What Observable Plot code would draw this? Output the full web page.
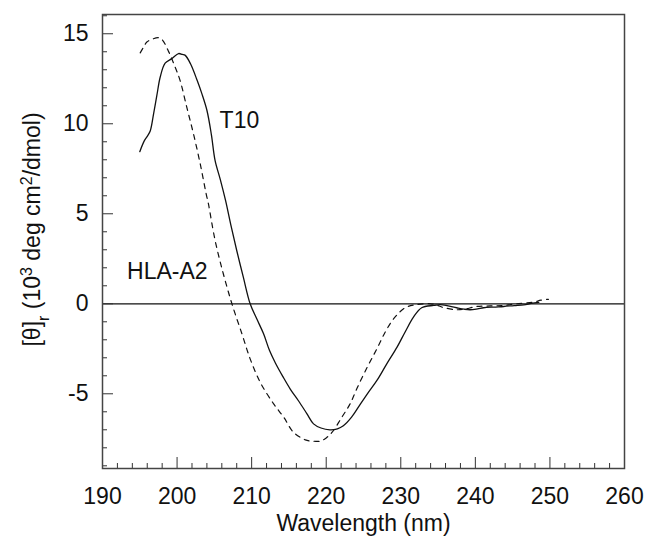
<!DOCTYPE html>
<html><head><meta charset="utf-8">
<script src="https://cdn.jsdelivr.net/npm/d3@7"></script>
<script src="https://cdn.jsdelivr.net/npm/@observablehq/plot@0.6"></script>
<style>body{margin:0;background:#fff} svg{display:block}</style>
</head><body><div id="chart"></div>
<script>
// T10 (solid) spectrum
const t10Wavelength = [195.0,195.6,196.0,196.4,196.85,197.3,197.74,198.4,199.3,200.2,200.7,201.1,201.8,202.7,203.3,204.0,204.6,205.1,205.8,206.5,207.2,208.0,208.9,209.8,210.7,211.6,212.4,213.2,214.2,215.2,216.3,217.4,218.3,219.3,220.5,221.5,222.3,223.4,224.6,225.7,226.8,228.1,229.5,230.6,231.7,232.8,234.4,235.3,236.2,237.5,238.5,239.3,240.3,241.1,242.5,243.8,245.2,246.5,247.5,248.5];
const t10Theta = [8.45,9.05,9.3,9.6,10.55,11.6,12.6,13.37,13.62,13.9,13.85,13.8,13.33,12.4,11.7,10.75,9.4,7.95,6.9,5.74,4.4,2.96,1.45,0,-0.85,-1.67,-2.6,-3.3,-4.05,-4.75,-5.4,-6.1,-6.67,-6.9,-7.0,-6.95,-6.78,-6.3,-5.56,-4.9,-4.26,-3.35,-2.41,-1.55,-0.74,-0.22,-0.09,-0.05,-0.1,-0.22,-0.3,-0.33,-0.28,-0.22,-0.18,-0.15,-0.1,-0.06,0.02,0.08];
// HLA-A2 (dashed) spectrum
const hlaWavelength = [195.06,195.5,195.95,196.7,197.5,198.0,198.9,199.75,200.4,201.3,202.2,203.1,203.9,204.2,205.1,206.2,207.4,208.7,209.8,211.2,212.95,214.3,215.6,217.2,218.2,219.2,220.0,220.8,222.1,223.2,224.1,225.5,226.8,227.9,229.05,230.6,232.2,234.0,235.0,235.8,237.5,238.5,240.2,242.0,243.8,245.5,247.8,248.8,249.8];
const hlaTheta = [13.94,14.25,14.54,14.7,14.78,14.67,13.98,13.14,12.41,10.92,9.44,7.78,6.11,5.56,3.52,1.67,-0.06,-1.67,-3.06,-4.4,-5.56,-6.3,-7.13,-7.56,-7.63,-7.63,-7.45,-7.13,-6.3,-5.56,-4.72,-3.52,-2.5,-1.58,-0.83,-0.22,-0.04,0,-0.1,-0.22,-0.33,-0.3,-0.15,-0.12,-0.09,0,0.09,0.2,0.25];
// axis ticks
const xTicks = [190,200,210,220,230,240,250,260];
const xMinorTicks = [192,194,196,198,202,204,206,208,212,214,216,218,222,224,226,228,232,234,236,238,242,244,246,248,252,254,256,258];
const yTicks = [-5,0,5,10,15];
const yMinorTicks = [-9,-8,-7,-6,-4,-3,-2,-1,1,2,3,4,6,7,8,9,11,12,13,14,16];
// curve labels
const labelText = ["T10","HLA-A2"];
const labelWavelength = [205.7,193.3];
const labelTheta = [10.2,1.8];

const W = 645, H = 538, mL = 102, mR = 21, mT = 14, mB = 70;
const plotW = W - mL - mR, plotH = H - mT - mB;
const FONT = "'Liberation Sans', Arial, Helvetica, sans-serif";

const t10 = t10Wavelength.map((x, i) => ({x, y: t10Theta[i]}));
const hla = hlaWavelength.map((x, i) => ({x, y: hlaTheta[i]}));
const labels = labelText.map((text, i) => ({text, x: labelWavelength[i], y: labelTheta[i]}));

const plot = Plot.plot({
  width: W, height: H,
  marginLeft: mL, marginRight: mR, marginTop: mT, marginBottom: mB,
  style: {fontFamily: FONT, fontSize: "23px", color: "#111", background: "#fff"},
  x: {domain: [190, 260]},
  y: {domain: [-9.15, 16.07]},
  marks: [
    Plot.ruleY([0], {stroke: "#111", strokeWidth: 1.2}),
    Plot.tickX(xMinorTicks, {x: d => d, insetTop: plotH - 5, stroke: "#333"}),
    Plot.tickX(xTicks, {x: d => d, insetTop: plotH - 11, stroke: "#333"}),
    Plot.tickY(yMinorTicks, {y: d => d, insetRight: plotW - 5, stroke: "#333"}),
    Plot.tickY(yTicks, {y: d => d, insetRight: plotW - 11, stroke: "#333"}),
    Plot.axisX({ticks: xTicks, tickSize: 0, tickPadding: 19, label: null, fontSize: 23, tickFormat: d => String(d)}),
    Plot.axisY({ticks: yTicks, tickSize: 0, tickPadding: 14, label: null, fontSize: 23, tickFormat: d => String(d)}),
    Plot.line(hla, {x: "x", y: "y", stroke: "#111", strokeWidth: 1.2, strokeDasharray: "5,5", curve: "catmull-rom"}),
    Plot.line(t10, {x: "x", y: "y", stroke: "#111", strokeWidth: 1.3, curve: "catmull-rom"}),
    Plot.frame({stroke: "#444", strokeWidth: 1.5}),
    Plot.text(labels, {x: "x", y: "y", text: "text", textAnchor: "start", lineAnchor: "middle", fontSize: 23, fill: "#111"}),
    Plot.text(["Wavelength (nm)"], {frameAnchor: "bottom", dy: 55, lineAnchor: "middle", fontSize: 23, fill: "#111"})
  ]
});

const svg = d3.select(plot);
const yl = svg.append("text")
  .attr("transform", "translate(40,229.5) rotate(-90)")
  .attr("text-anchor", "middle")
  .attr("fill", "#111")
  .style("font-family", FONT)
  .style("font-size", "23px");
yl.append("tspan").text("[θ]");
yl.append("tspan").attr("baseline-shift", "sub").style("font-size", "16px").text("r");
yl.append("tspan").text(" (10");
yl.append("tspan").attr("baseline-shift", "super").style("font-size", "16px").text("3");
yl.append("tspan").text(" deg cm");
yl.append("tspan").attr("baseline-shift", "super").style("font-size", "16px").text("2");
yl.append("tspan").text("/dmol)");

document.getElementById("chart").appendChild(plot);
</script>
</body></html>
